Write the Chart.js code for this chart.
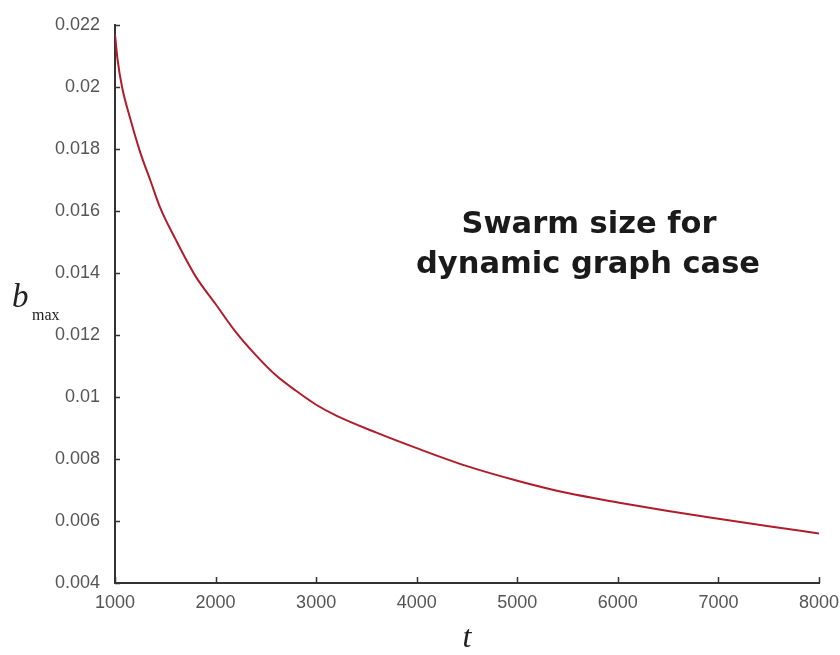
<!DOCTYPE html>
<html>
<head>
<meta charset="utf-8">
<title>Swarm size for dynamic graph case</title>
<script src="https://cdn.jsdelivr.net/npm/chart.js@4.4.0/dist/chart.umd.min.js"></script>
<style>
  html, body { margin: 0; padding: 0; background: #fff; }
  #wrap { width: 840px; height: 655px; }
</style>
</head>
<body>
<div id="wrap"><canvas id="swarmChart" width="840" height="655"></canvas></div>
<script>
// time steps and the max swarm size read at each one
const tValues = [1000, 1025, 1070, 1150, 1250, 1350, 1450, 1600, 1800, 2000, 2200, 2400, 2600,
  2800, 3000, 3200, 3600, 4000, 4500, 5000, 5500, 6000, 6500, 7000, 7500, 8000];
const bValues = [0.0217, 0.0209, 0.0200, 0.0190, 0.0179, 0.0170, 0.0161, 0.0151, 0.0139, 0.0130, 0.0121, 0.01135, 0.0107,
  0.0102, 0.00975, 0.0094, 0.00885, 0.00835, 0.00777, 0.0073, 0.0069, 0.0066, 0.00632, 0.00607, 0.00583, 0.0056];

const xTicks = [1000, 2000, 3000, 4000, 5000, 6000, 7000, 8000];
const yTicks = [0.004, 0.006, 0.008, 0.01, 0.012, 0.014, 0.016, 0.018, 0.02, 0.022];

const tickFont = { family: 'Liberation Sans, Arial, sans-serif', size: 18 };

// ticks point into the plot, so draw them by hand
const inwardTicks = {
  id: 'inwardTicks',
  afterDraw(chart) {
    const { ctx, chartArea, scales: { x, y } } = chart;
    ctx.save();
    ctx.strokeStyle = '#333';
    ctx.lineWidth = 1.5;
    ctx.beginPath();
    yTicks.forEach(v => {
      const py = Math.round(y.getPixelForValue(v)) + 0.5;
      ctx.moveTo(chartArea.left, py);
      ctx.lineTo(chartArea.left + 5, py);
    });
    xTicks.forEach(v => {
      const px = Math.round(x.getPixelForValue(v)) + 0.5;
      ctx.moveTo(px, chartArea.bottom);
      ctx.lineTo(px, chartArea.bottom - 6);
    });
    ctx.stroke();
    ctx.restore();
  }
};

// axis titles and the caption inside the plot
const labels = {
  id: 'labels',
  afterDraw(chart) {
    const { ctx } = chart;
    ctx.save();
    ctx.fillStyle = '#222';
    ctx.textBaseline = 'alphabetic';

    ctx.font = 'italic 33px "Liberation Serif", "Times New Roman", serif';
    ctx.textAlign = 'left';
    ctx.fillText('b', 12, 307);
    ctx.font = '16px "Liberation Serif", "Times New Roman", serif';
    ctx.fillText('max', 32, 320);

    ctx.font = 'italic 32px "Liberation Serif", "Times New Roman", serif';
    ctx.textAlign = 'center';
    ctx.fillText('t', 467, 647);

    ctx.fillStyle = '#1a1a1a';
    ctx.font = 'bold 30.5px "DejaVu Sans", sans-serif';
    ctx.fillText('Swarm size for', 589, 233);
    ctx.fillText('dynamic graph case', 588, 273);
    ctx.restore();
  }
};

const ctx = document.getElementById('swarmChart').getContext('2d');
new Chart(ctx, {
  type: 'line',
  data: {
    datasets: [{
      data: tValues.map((t, i) => ({ x: t, y: bValues[i] })),
      borderColor: '#b01c2b',
      borderWidth: 2,
      pointRadius: 0,
      fill: false,
      cubicInterpolationMode: 'monotone'
    }]
  },
  options: {
    responsive: false,
    animation: false,
    layout: { padding: { left: 0, top: 25, right: 21, bottom: 32 } },
    plugins: { legend: { display: false }, tooltip: { enabled: false } },
    scales: {
      x: {
        type: 'linear',
        min: 1000,
        max: 8000,
        afterBuildTicks(scale) { scale.ticks = xTicks.map(v => ({ value: v })); },
        afterFit(scale) {
          scale.height = 40;
          scale.paddingLeft = 0;
          scale.paddingRight = 0;
        },
        grid: { display: false },
        border: { display: true, color: '#333', width: 2 },
        ticks: { color: '#555', font: tickFont, padding: 1, maxRotation: 0, callback: v => String(v) }
      },
      y: {
        type: 'linear',
        min: 0.004,
        max: 0.022,
        afterBuildTicks(scale) { scale.ticks = yTicks.map(v => ({ value: v })); },
        afterFit(scale) {
          scale.width = 115;
          scale.paddingTop = 0;
          scale.paddingBottom = 0;
        },
        grid: { display: false },
        border: { display: true, color: '#333', width: 2 },
        ticks: {
          color: '#555',
          font: tickFont,
          padding: 7,
          callback: v => String(+v.toFixed(3))
        }
      }
    }
  },
  plugins: [inwardTicks, labels]
});
</script>
</body>
</html>
